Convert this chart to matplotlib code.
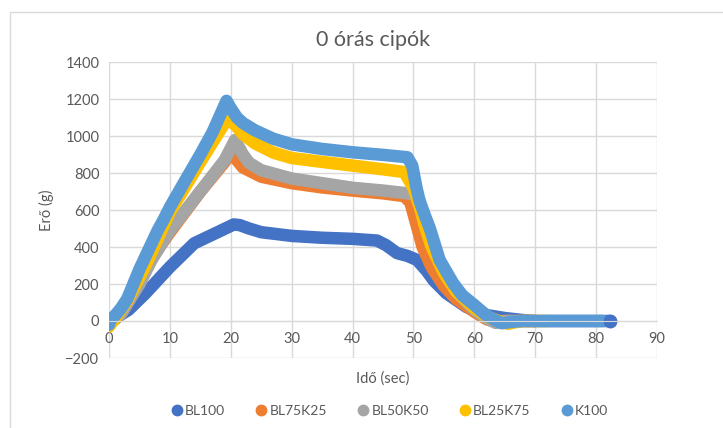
import numpy as np
import matplotlib.pyplot as plt
from matplotlib.patches import Rectangle

plt.rcParams['font.family'] = ['Lato', 'DejaVu Sans']

# Adatok
x_bl100 = [0, 1, 3.2, 6, 10, 14, 18.6, 20.5, 21.5, 23, 25, 30, 35, 40, 44, 45.5, 47.3, 49, 50.6, 52.2, 53.3, 55.4, 58.7, 62, 65, 68, 70, 75, 82.3]
y_bl100 = [0, 15, 60, 150, 292, 420, 492, 522, 518, 500, 480, 460, 450, 444, 435, 410, 367, 352, 330, 270, 220, 150, 76, 32, 16, 5, 0, 0, 0]

x_bl75 = [0, 1, 2, 5, 7, 10, 15, 19, 20.2, 21, 22, 25, 30, 35, 40, 45, 48.5, 49.5, 50.5, 51.5, 53, 55, 57, 60, 62, 63.5, 65, 70]
y_bl75 = [-10, 10, 40, 210, 340, 480, 700, 860, 920, 870, 830, 780, 745, 722, 705, 690, 675, 640, 520, 400, 290, 190, 120, 50, 10, -5, 0, 0]

x_bl50 = [0, 1, 2, 5, 7, 10, 15, 19, 20.7, 22, 23, 25, 30, 35, 40, 45, 48.5, 50, 51, 52, 53, 55, 57, 60, 62, 63.5, 65, 70]
y_bl50 = [-10, 10, 40, 200, 330, 490, 700, 870, 978, 900, 855, 815, 770, 745, 720, 705, 692, 685, 650, 540, 420, 270, 160, 60, 15, -10, 0, 0]

x_bl25 = [0, 1, 3, 6, 10, 15, 19.5, 21, 22, 24, 27, 30, 35, 40, 45, 48.5, 50, 51, 52, 53, 55, 57, 60, 62, 64, 65.5, 67, 68, 72]
y_bl25 = [-30, 15, 110, 300, 590, 860, 1097, 1050, 1010, 960, 910, 881, 860, 840, 820, 805, 720, 620, 500, 400, 260, 160, 70, 25, 0, -15, -5, 0, 0]

x_k100 = [0, 0.3, 1, 2, 3, 4, 5, 6, 7, 8, 9, 10, 12, 15, 17, 19.3, 20, 21, 22, 24, 27, 30, 35, 40, 45, 49, 49.8, 50.5, 51, 52, 52.7, 54.3, 56.5, 58, 60, 62, 63.7, 64.5, 66, 68, 75, 81.1]
y_k100 = [-20, 10, 30, 70, 120, 200, 280, 350, 420, 490, 550, 615, 730, 900, 1020, 1190, 1150, 1100, 1070, 1030, 985, 955, 930, 912, 898, 885, 840, 720, 650, 560, 500, 330, 205, 140, 86, 30, 0, -12, -5, 0, 0, 0]

labels = ['BL100', 'BL75K25', 'BL50K50', 'BL25K75', 'K100']
colors = ['#4472C4', '#ED7D31', '#A5A5A5', '#FFC000', '#5B9BD5']
series = [(x_bl100, y_bl100), (x_bl75, y_bl75), (x_bl50, y_bl50),
          (x_bl25, y_bl25), (x_k100, y_k100)]

fig = plt.figure(figsize=(7.23, 4.28), dpi=100)
ax = fig.add_axes([109/723, 1 - 358/428, 548/723, 296/428])

# keret a diagram körül
fig.patches.append(Rectangle((10/723, -0.05), 1.0, 1 - 12/428 + 0.05,
                             transform=fig.transFigure, fill=False,
                             edgecolor='#D9D9D9', linewidth=1))

for (x, y), c, lab in zip(series, colors, labels):
    ax.plot(x, y, color=c, lw=9, solid_capstyle='round',
            solid_joinstyle='round', label=lab)

# a BL100 utolsó pontja kilóg a K100 mögül
ax.plot(x_bl100[-1], y_bl100[-1], 'o', color=colors[0], ms=9)

ax.set_xlim(0, 90)
ax.set_ylim(-200, 1400)
ax.set_xticks(np.arange(0, 91, 10))
ax.set_yticks(np.arange(-200, 1401, 200))
ax.grid(True, color='#D9D9D9', lw=1)
ax.set_axisbelow(True)
for s in ['top', 'right', 'left']:
    ax.spines[s].set_visible(False)
ax.spines['bottom'].set_position(('data', 0))
ax.spines['bottom'].set_color('#D9D9D9')
ax.tick_params(length=0, labelsize=10.5, colors='#595959')
ax.tick_params(axis='x', pad=8)
ax.tick_params(axis='y', pad=7)

fig.text(373/723, 1 - 40/428, '0 órás cipók', fontsize=15.5, color='#595959',
         ha='center', va='center')
ax.set_ylabel('Erő (g)', fontsize=10.5, color='#595959', labelpad=8)
fig.text(383/723, 1 - 379/428, 'Idő (sec)', fontsize=10.5, color='#595959',
         ha='center', va='center')

handles = [plt.Line2D([], [], marker='o', ls='', color=c, ms=7.5) for c in colors]
fig.legend(handles, labels, loc='center', bbox_to_anchor=(389/723, 1 - 411/428),
           ncol=5, frameon=False, fontsize=10, labelcolor='#595959',
           handletextpad=0.1, columnspacing=2.1, handlelength=1)

fig.savefig('out.png', dpi=100)
